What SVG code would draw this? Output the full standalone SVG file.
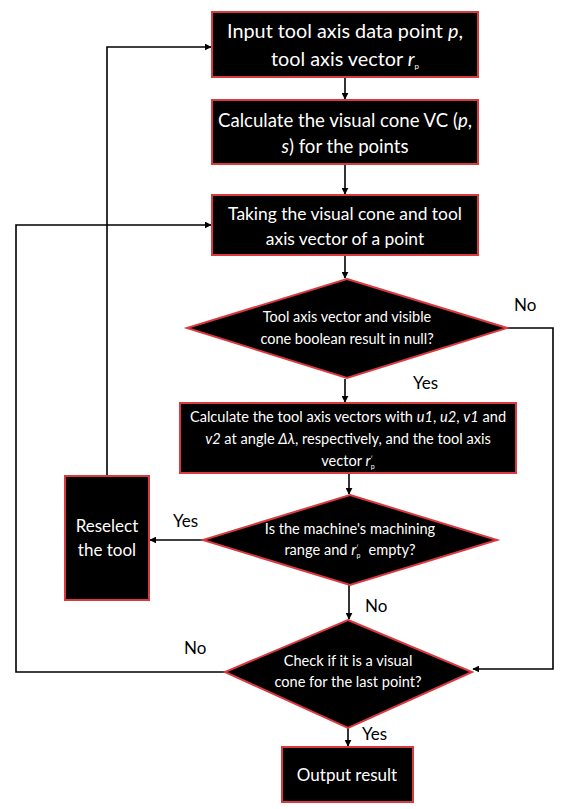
<svg xmlns="http://www.w3.org/2000/svg" width="568" height="809" viewBox="0 0 568 809">
<style>
.n{fill:#000;stroke:#d9393f;stroke-width:2}
text{font-family:Lato,"Open Sans","Liberation Sans",sans-serif;fill:#fff;text-anchor:middle}
.l{fill:#000;font-size:17px;text-anchor:start}
.c{fill:none;stroke:#000;stroke-width:1.6}
</style>
<defs>
<marker id="a" viewBox="0 0 10 10" refX="9" refY="5" markerWidth="7" markerHeight="7" orient="auto" markerUnits="userSpaceOnUse"><path d="M0,0L10,5L0,10z" fill="#000"/></marker>
</defs>
<rect width="568" height="809" fill="#fff"/>
<g id="connectors">
<path class="c" d="M345,77V99" marker-end="url(#a)"/>
<path class="c" d="M345,164V194" marker-end="url(#a)"/>
<path class="c" d="M345,255V278" marker-end="url(#a)"/>
<path class="c" d="M345,379V402" marker-end="url(#a)"/>
<path class="c" d="M349,473V494" marker-end="url(#a)"/>
<path class="c" d="M349,585V619" marker-end="url(#a)"/>
<path class="c" d="M348,728V746" marker-end="url(#a)"/>
<path class="c" d="M205,540H150" marker-end="url(#a)"/>
<path class="c" d="M107,476V47H211" marker-end="url(#a)"/>
<path class="c" d="M507,328H553V669H473" marker-end="url(#a)"/>
<path class="c" d="M225,672H16V225H211" marker-end="url(#a)"/>
<text class="l" x="514" y="311">No</text>
<text class="l" x="413" y="389">Yes</text>
<text class="l" x="173" y="527">Yes</text>
<text class="l" x="365" y="612">No</text>
<text class="l" x="184" y="654">No</text>
<text class="l" x="362" y="740">Yes</text>
</g>
<g id="n1"><rect class="n" x="212" y="12" width="266" height="65"/>
<text x="345" y="38" font-size="19.8">Input tool axis data point <tspan font-style="italic">p</tspan>,</text>
<text x="345" y="66" font-size="19.8">tool axis vector <tspan font-style="italic">r</tspan><tspan font-size="8" dy="3">p</tspan></text></g>
<g id="n2"><rect class="n" x="212" y="100" width="266" height="64"/>
<text x="345" y="127" font-size="18.6">Calculate the visual cone VC (<tspan font-style="italic">p</tspan>,</text>
<text x="345" y="153" font-size="18.6"><tspan font-style="italic">s</tspan>) for the points</text></g>
<g id="n3"><rect class="n" x="212" y="195" width="266" height="60"/>
<text x="345" y="220" font-size="17.4">Taking the visual cone and tool</text>
<text x="345" y="245" font-size="17.4">axis vector of a point</text></g>
<g id="n4"><polygon class="n" points="347,279 507,328 347,378 187,328"/>
<text x="347" y="322" font-size="14.5">Tool axis vector and visible</text>
<text x="347" y="344" font-size="14.5">cone boolean result in null?</text></g>
<g id="n5"><rect class="n" x="180" y="403" width="336" height="70"/>
<text x="348" y="422" font-size="14.6">Calculate the tool axis vectors with <tspan font-style="italic">u1</tspan>, <tspan font-style="italic">u2</tspan>, <tspan font-style="italic">v1</tspan> and</text>
<text x="348" y="444" font-size="14.6"><tspan font-style="italic">v2</tspan> at angle <tspan font-style="italic">Δλ</tspan>, respectively, and the tool axis</text>
<text x="348" y="466" font-size="14.6">vector <tspan font-style="italic">r</tspan><tspan font-size="7" dy="-4">′</tspan><tspan font-size="7" dx="-2" dy="7">p</tspan></text></g>
<g id="n6"><polygon class="n" points="350,495 497,540 350,585 203,540"/>
<text x="350" y="534" font-size="14.6">Is the machine's machining</text>
<text x="350" y="555" font-size="14.6">range and <tspan font-style="italic">r</tspan><tspan font-size="7" dy="-4">′</tspan><tspan font-size="7" dx="-2" dy="7">p</tspan><tspan dx="8" dy="-3">empty?</tspan></text></g>
<g id="n7"><rect class="n" x="65" y="476" width="84" height="124"/>
<text x="107" y="532" font-size="17">Reselect</text>
<text x="107" y="556" font-size="17">the tool</text></g>
<g id="n8"><polygon class="n" points="348,620 472,672 348,728 225,672"/>
<text x="348" y="666" font-size="14.6">Check if it is a visual</text>
<text x="348" y="687" font-size="14.6">cone for the last point?</text></g>
<g id="n9"><rect class="n" x="282" y="747" width="131" height="55"/>
<text x="347" y="781" font-size="17">Output result</text></g>
</svg>
